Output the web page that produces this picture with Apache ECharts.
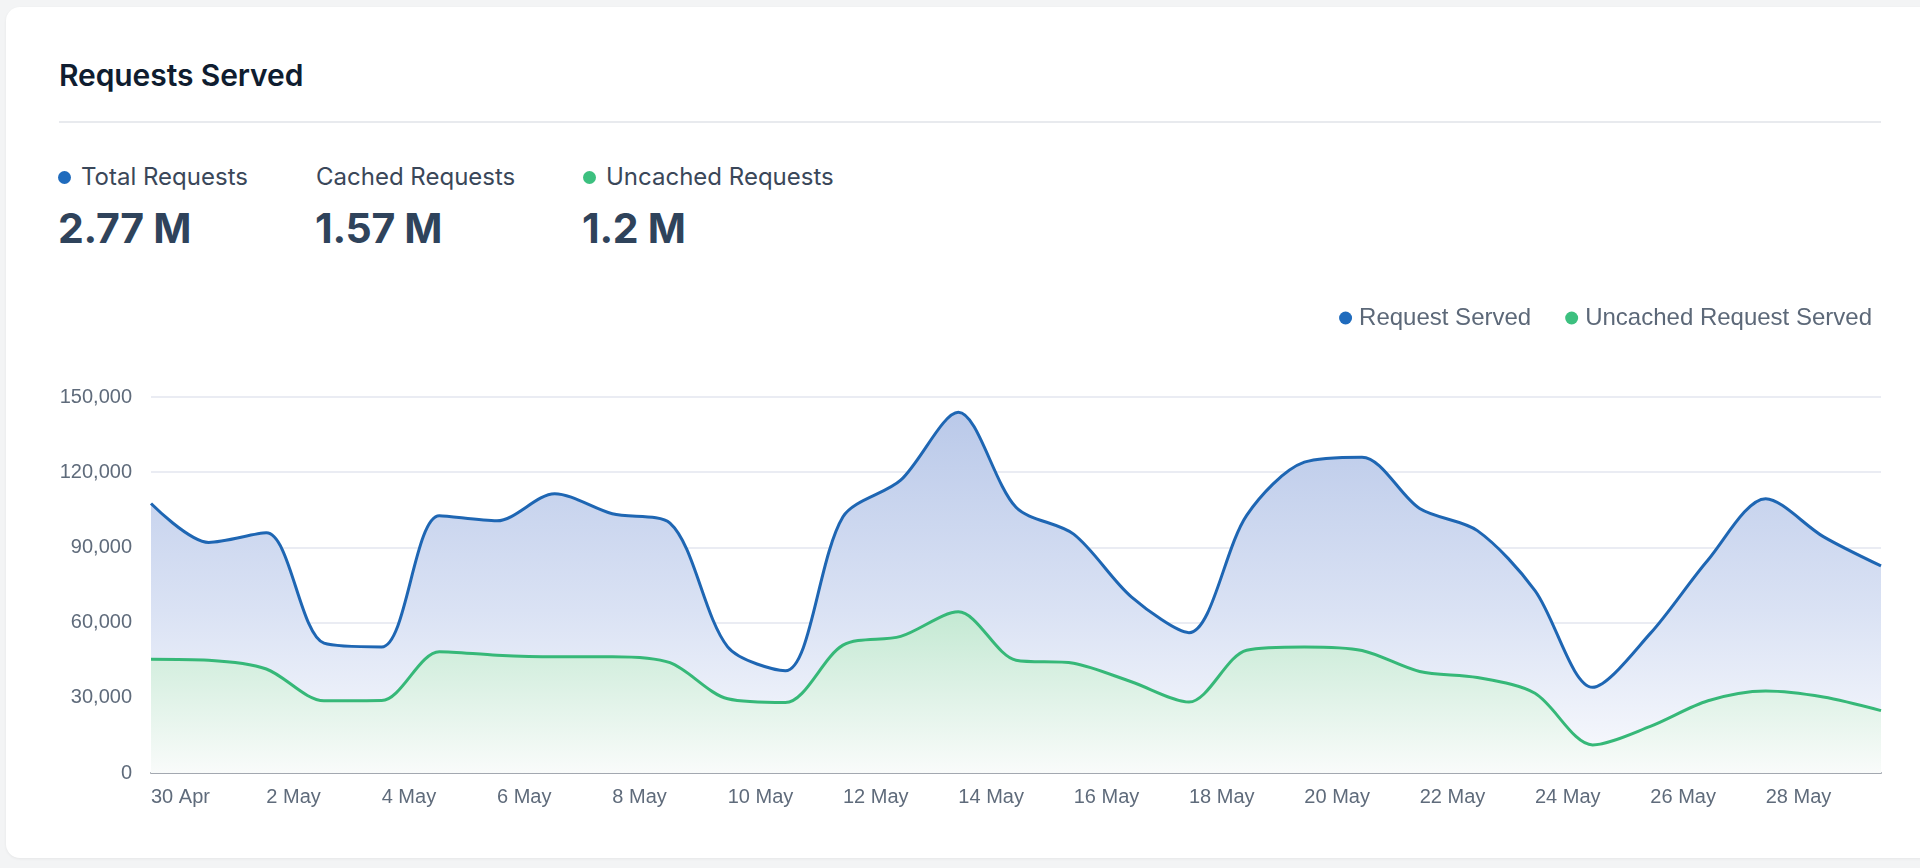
<!DOCTYPE html>
<html>
<head>
<meta charset="utf-8">
<script src="https://cdn.jsdelivr.net/npm/echarts@6/dist/echarts.min.js"></script>
<style>
  html, body { margin: 0; padding: 0; width: 1920px; height: 868px; background: #f3f4f5; overflow: hidden; }
  #card { position: absolute; left: 6px; top: 7px; right: -20px; bottom: 10px; background: #fff; border-radius: 14px; box-shadow: 0 1px 3px rgba(0,0,0,0.06); }
  #chart { position: absolute; left: 0; top: 0; width: 1920px; height: 868px; }
  .hdr { position: absolute; font-family: Inter, "Noto Sans", sans-serif; white-space: nowrap; }
  #title { left: 59px; top: 57px; font-size: 30px; font-weight: 600; color: #0f1d30; letter-spacing: -0.1px; }
  #sep { position: absolute; left: 59px; top: 121px; width: 1822px; height: 2px; background: #e8eaee; }
  .lbl { top: 162px; font-size: 24px; color: #3a4759; }
  .val { top: 203px; font-size: 41px; font-weight: 700; color: #2f435b; letter-spacing: -0.3px; }
  .dot { position: absolute; width: 13px; height: 13px; border-radius: 50%; top: 171px; }
</style>
</head>
<body>
<div id="card"></div>
<div id="title" class="hdr">Requests Served</div>
<div id="sep"></div>
<div class="dot" style="left:58px;background:#1f6bbd;"></div>
<div class="hdr lbl" style="left:81px;">Total Requests</div>
<div class="hdr lbl" style="left:316px;">Cached Requests</div>
<div class="dot" style="left:583px;background:#3cc07f;"></div>
<div class="hdr lbl" style="left:606px;">Uncached Requests</div>
<div class="hdr val" style="left:58px;">2.77 M</div>
<div class="hdr val" style="left:315px;">1.57 M</div>
<div class="hdr val" style="left:582px;">1.2 M</div>
<div id="chart"></div>
<script>
const categories = ['30 Apr','1 May','2 May','3 May','4 May','5 May','6 May','7 May','8 May','9 May','10 May',
  '11 May','12 May','13 May','14 May','15 May','16 May','17 May','18 May','19 May','20 May',
  '21 May','22 May','23 May','24 May','25 May','26 May','27 May','28 May','29 May','30 May'];
const requestServed = [107500, 92000, 95800, 51800, 50300, 102600, 100600, 111400, 103400, 99700, 50300,
  40800, 102200, 116800, 143900, 106000, 95300, 70300, 56000, 102800, 124000,
  126000, 105500, 96700, 72800, 34200, 55700, 85000, 109400, 94300, 82600];
const uncachedServed = [45400, 45000, 41500, 28800, 28900, 48400, 47000, 46400, 46400, 44000, 29600,
  28100, 51000, 54500, 64300, 45000, 43800, 36400, 28300, 49000, 50300,
  48900, 40500, 38100, 31800, 11200, 18600, 28800, 32700, 30300, 24900];
const yTicks = [0, 30000, 60000, 90000, 120000, 150000];

const chart = echarts.init(document.getElementById('chart'), null, { renderer: 'canvas' });
const axisFont = 'Liberation Sans, Arial, Helvetica, sans-serif';
chart.setOption({
  animation: false,
  legend: {
    right: 43, top: 301,
    icon: 'circle', itemWidth: 13, itemHeight: 13, itemGap: 34,
    textStyle: { fontFamily: axisFont, fontSize: 24, color: '#5c6878', padding: [0, 0, 0, 2] },
    data: ['Request Served', 'Uncached Request Served']
  },
  grid: { left: 151, right: 39, top: 397, bottom: 95, containLabel: false },
  xAxis: {
    type: 'category', boundaryGap: false, data: categories,
    axisLine: { lineStyle: { color: '#a3a8b0', width: 2 } },
    axisTick: { show: false },
    axisLabel: {
      interval: function (idx) { return idx % 2 === 0 && idx < categories.length - 1; },
      align: 'left', margin: 14,
      fontFamily: axisFont, fontSize: 20, color: '#5f6b7b'
    },
    splitLine: { show: false }
  },
  yAxis: {
    type: 'value', min: yTicks[0], max: yTicks[yTicks.length - 1], interval: yTicks[1] - yTicks[0],
    axisLine: { show: false }, axisTick: { show: false },
    axisLabel: {
      margin: 19, fontFamily: axisFont, fontSize: 20, color: '#5f6b7b',
      formatter: function (v) { return v.toLocaleString('en-US'); }
    },
    splitLine: { lineStyle: { color: '#e3e6ef', width: 1.5 } }
  },
  series: [
    {
      name: 'Request Served', type: 'line', data: requestServed,
      smooth: 0.3, symbol: 'none',
      itemStyle: { color: '#1f6bbd' },
      lineStyle: { color: '#1e66b3', width: 3 },
      areaStyle: {
        opacity: 1,
        color: new echarts.graphic.LinearGradient(0, 0, 0, 1, [
          { offset: 0, color: 'rgb(186,201,233)' },
          { offset: 0.55, color: 'rgb(218,226,244)' },
          { offset: 1, color: 'rgb(250,251,254)' }
        ])
      },
      z: 2
    },
    {
      name: 'Uncached Request Served', type: 'line', data: uncachedServed,
      smooth: 0.3, symbol: 'none',
      itemStyle: { color: '#3cc07f' },
      lineStyle: { color: '#36b878', width: 3 },
      areaStyle: {
        opacity: 1,
        color: new echarts.graphic.LinearGradient(0, 0, 0, 1, [
          { offset: 0, color: 'rgb(196,233,211)' },
          { offset: 1, color: 'rgb(249,251,250)' }
        ])
      },
      z: 3
    }
  ]
});
</script>
</body>
</html>
